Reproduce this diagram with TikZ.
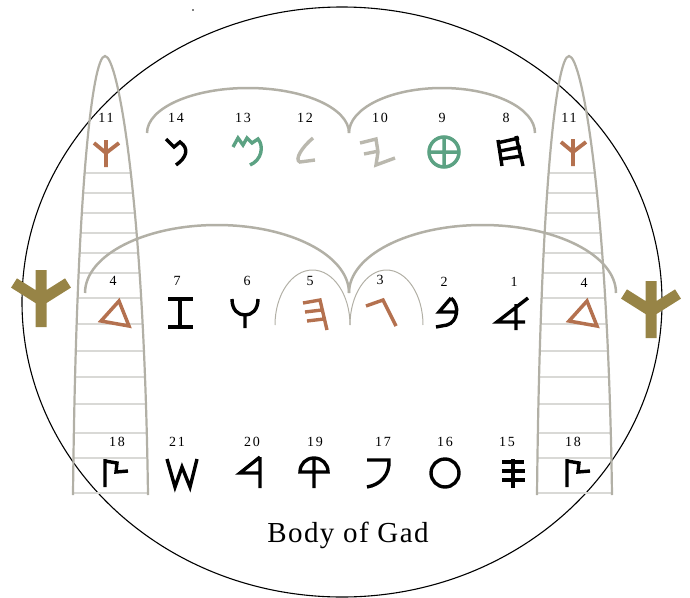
\documentclass[tikz,border=0pt]{standalone}
\usepackage{fontspec}
\setmainfont{Liberation Serif}
\newfontfamily\numfont[LetterSpace=12]{Liberation Serif}
\usepackage{xcolor}

\definecolor{ladgray}{HTML}{B2B0A6}
\definecolor{runggray}{HTML}{D9D9D6}
\definecolor{rust}{HTML}{B4714F}
\definecolor{jade}{HTML}{5CA283}
\definecolor{gadolive}{HTML}{978446}
\definecolor{stone}{HTML}{BAB8AE}

\begin{document}
\begin{tikzpicture}[x=1pt, y=-1pt,
    num/.style={font=\numfont\fontsize{14}{16}\selectfont, inner sep=0pt},
    glyph/.style={line width=3.4pt, line join=miter},
    arch/.style={ladgray, line width=2.5pt},
    thinarch/.style={ladgray, line width=1pt},
    rung/.style={runggray, line width=1.5pt},
    leg/.style={ladgray, line width=2.2pt},
    ladder/.pic={
        \begin{scope}
            \clip (73,497) -- (73,495) .. controls (76,200) and (92,56) .. (105,56)
                .. controls (118,56) and (144,200) .. (148,495) -- (148,497) -- cycle;
            \foreach \ry in {173,193,213,233,253,273,298,324,351,377,404,433,458,493}
                \draw[rung] (60,\ry) -- (160,\ry);
        \end{scope}
        \draw[leg] (73,495) .. controls (76,200) and (92,56) .. (105,56)
            .. controls (118,56) and (144,200) .. (148,495);
    },
    kaf/.pic={\draw[glyph, rust, line width=3.8pt] (0,-13) -- (0,14) (-12,-10) -- (0,0) -- (13,-10);},
    bigkaf/.pic={\draw[gadolive, line width=11pt] (0,-30) -- (0,27) (-27,-17) -- (0,0) -- (27,-17);},
    dalet/.pic={\draw[glyph, rust, line width=3.5pt] (3,-15) -- (-15,5) -- (13,10) -- cycle;},
    tsade/.pic={\draw[glyph] (-8,-14) -- (-8,14) (-8,-12) -- (4,-10) -- (3,-1) -- (15,-2);}
]
\useasboundingbox (0,0) rectangle (690,597);

% outer ring
\draw[line width=1.1pt] (342,302) ellipse [x radius=320pt, y radius=295pt];
\fill (193,10) circle [radius=0.8pt];

% ladders
\pic at (0,0) {ladder};
\pic at (464,0) {ladder};

% arches
\draw[arch] (147,133) arc [start angle=180, end angle=0, x radius=101pt, y radius=45pt];
\draw[arch] (349,133) arc [start angle=180, end angle=0, x radius=93pt, y radius=45pt];
\draw[arch] (85,293) arc [start angle=180, end angle=0, x radius=132pt, y radius=68pt];
\draw[arch] (349,293) arc [start angle=180, end angle=0, x radius=133.5pt, y radius=68pt];
\draw[thinarch] (275,325) arc [start angle=180, end angle=0, x radius=37.5pt, y radius=55pt];
\draw[thinarch] (350,325) arc [start angle=180, end angle=0, x radius=36.5pt, y radius=55pt];

% top row
\pic at (106,153) {kaf};
\draw[glyph] (166,139) -- (174,147) -- (180,142) .. controls (190,149) and (186,158) .. (176,165);
\draw[glyph, jade] (233,147) -- (238,138) -- (243,145) -- (247,138) -- (252,143) -- (258,139)
    .. controls (264,146) and (262,160) .. (250,165);
\draw[glyph, stone] (313,138) .. controls (302,147) and (294,160) .. (300,162) -- (315,160);
\draw[glyph, stone] (360,143) -- (376,139) -- (378,152) -- (376,165) -- (395,158) (364,154) -- (379,151);
\draw[glyph, jade, line width=3.5pt] (444,152) circle [radius=15pt] (429,152) -- (459,152) (444,137) -- (444,167);
\draw[glyph] (498,140) -- (502,166) (516,136) -- (523,166)
    (497,143) -- (519,138) (500,151) -- (521,147) (501,159) -- (522,156);
\pic at (573,152) {kaf};

% middle row
\pic at (41,300) {bigkaf};
\pic at (116,316) {dalet};
\draw[glyph] (168,299) -- (193,299) (168,327) -- (193,327) (180,299) -- (180,327);
\draw[glyph] (232,299) .. controls (232,310) and (238,315) .. (245,315)
    .. controls (252,315) and (258,310) .. (258,299) (245,315) -- (245,328);
\draw[glyph, rust] (303,303) -- (320,300) -- (327,330) (305,312) -- (322,310) (307,321) -- (324,319);
\draw[glyph, rust] (366,306) -- (383,300) -- (396,326);
\draw[glyph] (451,298) -- (439,312) -- (456,312) (451,298) .. controls (460,305) and (458,322) .. (447,325) -- (436,327);
\draw[glyph] (528,298) -- (497,322) -- (525,322) (516,304) -- (516,330);
\pic at (584,316) {dalet};
\pic at (651,311) {bigkaf};

% bottom row
\pic at (113,473) {tsade};
\draw[glyph] (167,459) -- (175,487) -- (182,467) -- (190,487) -- (197,459);
\draw[glyph] (260,457) -- (240,473) -- (260,473) (260,457) -- (260,488);
\draw[glyph] (300,472) .. controls (300,464) and (306,458) .. (314,458)
    .. controls (322,458) and (328,464) .. (328,472) -- cycle (314,458) -- (314,488);
\draw[glyph] (367,460) -- (389,460) .. controls (390,475) and (380,485) .. (367,487);
\draw[glyph] (445,473) circle [radius=14pt];
\draw[glyph] (513,459) -- (513,488) (502,462) -- (524,462) (502,471) -- (525,471) (502,480) -- (525,480);
\pic at (575,473) {tsade};

% numbers
\node[num] (t11a) at (106,118) {11};
\node[num] (t14) at (176,118) {14};
\node[num] (t13) at (243,118) {13};
\node[num] (t12) at (305,118) {12};
\node[num] (t10) at (380,118) {10};
\node[num] (t9) at (442,118) {9};
\node[num] (t8) at (506,118) {8};
\node[num] (t11b) at (569,118) {11};
\node[num] (m4a) at (113,281) {4};
\node[num] (m7) at (177,281) {7};
\node[num] (m6) at (247,281) {6};
\node[num] (m5) at (310,281) {5};
\node[num] (m3) at (380,280) {3};
\node[num] (m2) at (444,282) {2};
\node[num] (m1) at (514,282) {1};
\node[num] (m4b) at (584,283) {4};
\node[num] (b18a) at (117,442) {18};
\node[num] (b21) at (177,442) {21};
\node[num] (b20) at (252,442) {20};
\node[num] (b19) at (315,442) {19};
\node[num] (b17) at (383,442) {17};
\node[num] (b16) at (445,442) {16};
\node[num] (b15) at (507,442) {15};
\node[num] (b18b) at (573,442) {18};

\node[font=\fontsize{29}{34}\selectfont\addfontfeatures{LetterSpace=5}] (title) at (348,535) {Body of Gad};
\end{tikzpicture}
\end{document}
